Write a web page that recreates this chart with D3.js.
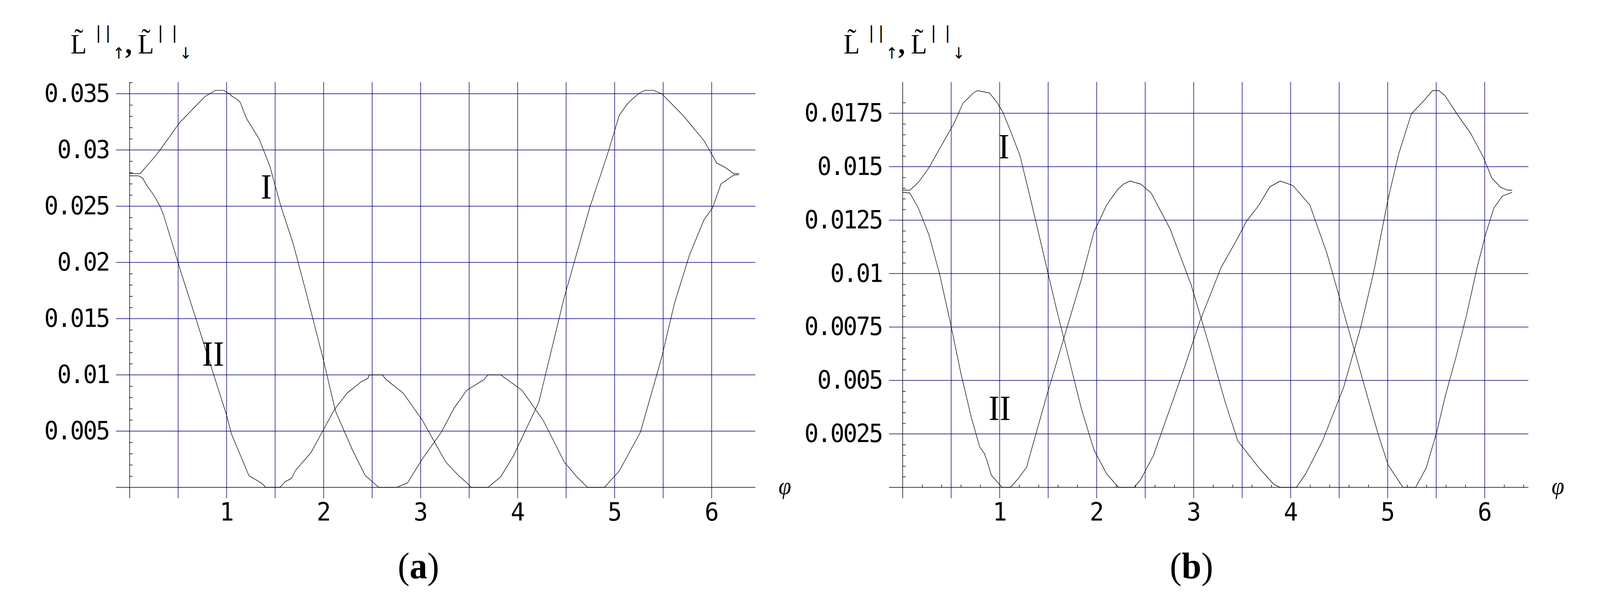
<!DOCTYPE html>
<html>
<head>
<meta charset="utf-8">
<script src="https://cdn.jsdelivr.net/npm/d3@7"></script>
<style>
  html, body { margin: 0; padding: 0; background: #fff; overflow: hidden; }
  #plot svg { display: block; width: 100vw; height: 100vh; }
  .grid { stroke: #000080; stroke-width: 1.5; }
  .axisline { stroke: #000; stroke-width: 1.5; }
  .curve { fill: none; stroke: #000; stroke-width: 1.4; }
  .tick-lbl { font-family: "DejaVu Sans Mono", monospace; font-size: 64px; letter-spacing: -3.5px; fill: #000; }
</style>
</head>
<body>
<div id="plot"></div>
<script>
// panel (a): phi values and the two curves
const aPhiI = [0, 0.03, 0.108, 0.25, 0.314, 0.517, 0.777, 0.885, 0.969, 1.03, 1.056, 1.10, 1.139, 1.205, 1.336, 1.445, 1.555, 1.686, 1.817, 1.991, 2.122, 2.297, 2.428, 2.515, 2.568, 2.755, 2.865, 3.017, 3.214, 3.345, 3.476, 3.651, 3.694, 3.825, 4.044, 4.262, 4.48, 4.611, 4.72, 4.895, 5.048, 5.266, 5.485, 5.616, 5.769, 5.921, 6.009, 6.096, 6.227, 6.283];
const aValI = [0.0279, 0.0279, 0.0279, 0.0293, 0.0300, 0.03245, 0.03475, 0.0353, 0.0353, 0.0350, 0.03477, 0.03455, 0.03425, 0.0328, 0.03096, 0.02857, 0.02511, 0.02166, 0.01741, 0.01156, 0.00678, 0.00332, 0.00106, 0.0004, 0, 0, 0.0004, 0.00252, 0.00492, 0.00704, 0.00864, 0.00957, 0.01, 0.01, 0.00864, 0.00598, 0.00226, 0.00093, 0, 0, 0.00146, 0.00492, 0.01156, 0.01634, 0.0206, 0.02379, 0.02485, 0.02697, 0.02777, 0.0278];
const aPhiII = [0, 0.091, 0.136, 0.168, 0.25, 0.314, 0.349, 0.533, 0.693, 0.854, 1.001, 1.049, 1.229, 1.335, 1.383, 1.40, 1.549, 1.603, 1.669, 1.709, 1.87, 1.99, 2.11, 2.244, 2.39, 2.457, 2.471, 2.604, 2.646, 2.821, 3.017, 3.258, 3.389, 3.476, 3.52, 3.694, 3.825, 3.956, 4.218, 4.48, 4.611, 4.742, 4.917, 5.048, 5.135, 5.245, 5.31, 5.40, 5.485, 5.703, 5.921, 6.052, 6.14, 6.227, 6.283];
const aValII = [0.0277, 0.0277, 0.02748, 0.02696, 0.02597, 0.02499, 0.02424, 0.01903, 0.01473, 0.01035, 0.00638, 0.00476, 0.00105, 0.0005, 0.0002, 0, 0, 0.0005, 0.0008, 0.0015, 0.0031, 0.005, 0.0069, 0.0084, 0.0094, 0.0097, 0.01, 0.01, 0.00957, 0.00837, 0.00598, 0.00226, 0.00106, 0.0004, 0, 0, 0.00093, 0.00279, 0.00757, 0.01688, 0.02086, 0.02485, 0.02937, 0.03309, 0.03415, 0.035, 0.0353, 0.0353, 0.035, 0.03309, 0.03083, 0.02884, 0.02844, 0.0279, 0.0279];

// panel (b)
const bPhiI = [0, 0.074, 0.161, 0.271, 0.401, 0.532, 0.62, 0.729, 0.772, 0.894, 0.969, 1.034, 1.121, 1.209, 1.318, 1.449, 1.579, 1.71, 1.841, 1.972, 2.103, 2.225, 2.387, 2.452, 2.583, 2.714, 2.888, 3.063, 3.281, 3.455, 3.543, 3.674, 3.783, 3.892, 4.023, 4.197, 4.372, 4.503, 4.634, 4.764, 4.895, 5.004, 5.157, 5.288, 5.397, 5.506, 5.593, 5.703, 5.812, 5.921, 6.008, 6.095, 6.183, 6.283];
const bValI = [0.0139, 0.0139, 0.01426, 0.01496, 0.016, 0.01705, 0.01796, 0.01845, 0.01856, 0.01845, 0.01803, 0.01754, 0.01656, 0.01552, 0.01349, 0.01097, 0.00846, 0.00608, 0.0037, 0.00175, 0.00063, 0, 0, 0.00035, 0.00147, 0.00315, 0.00538, 0.00776, 0.01027, 0.01167, 0.01244, 0.01321, 0.01405, 0.01433, 0.01412, 0.01321, 0.01097, 0.00888, 0.00678, 0.00468, 0.00259, 0.00105, 0, 0, 0.00091, 0.00259, 0.00426, 0.00608, 0.00804, 0.01027, 0.01181, 0.01307, 0.01363, 0.0138];
const bPhiII = [0, 0.074, 0.161, 0.271, 0.38, 0.489, 0.598, 0.707, 0.794, 0.84, 0.87, 0.914, 1.025, 1.11, 1.19, 1.278, 1.33, 1.492, 1.667, 1.841, 1.972, 2.103, 2.212, 2.277, 2.343, 2.452, 2.561, 2.757, 2.976, 3.15, 3.325, 3.455, 3.674, 3.826, 3.892, 4.058, 4.154, 4.328, 4.546, 4.721, 4.852, 5.004, 5.113, 5.244, 5.375, 5.463, 5.528, 5.593, 5.724, 5.855, 5.986, 6.073, 6.161, 6.227, 6.283];
const bValII = [0.0138, 0.01377, 0.01307, 0.01181, 0.00999, 0.00776, 0.00538, 0.00328, 0.00189, 0.0016, 0.00124, 0.00057, 0, 0, 0.0004, 0.00094, 0.0018, 0.0044, 0.00706, 0.00971, 0.01195, 0.01321, 0.01391, 0.01419, 0.01433, 0.01419, 0.01377, 0.01209, 0.00944, 0.00678, 0.00398, 0.00217, 0.00091, 0.00014, 0, 0, 0.00063, 0.00217, 0.00468, 0.00748, 0.00999, 0.01349, 0.01559, 0.01747, 0.0181, 0.01856, 0.01856, 0.01831, 0.0174, 0.01656, 0.01545, 0.01447, 0.01405, 0.01391, 0.0139];

// ticks
const xTicks = [1, 2, 3, 4, 5, 6];
const xGrid = [0.5, 1, 1.5, 2, 2.5, 3, 3.5, 4, 4.5, 5, 5.5, 6];
const aYTicks = [0.005, 0.01, 0.015, 0.02, 0.025, 0.03, 0.035];
const aYLabels = ["0.005", "0.01", "0.015", "0.02", "0.025", "0.03", "0.035"];
const bYTicks = [0.0025, 0.005, 0.0075, 0.01, 0.0125, 0.015, 0.0175];
const bYLabels = ["0.0025", "0.005", "0.0075", "0.01", "0.0125", "0.015", "0.0175"];

const W = 4332, H = 1516;
// stretch the drawing over the whole window, whatever its size
const svg = d3.select("#plot").append("svg")
  .attr("viewBox", `0 0 ${W} ${H}`)
  .attr("preserveAspectRatio", "none");

// one panel of the figure
function drawPanel(o) {
  const x = d3.scaleLinear().domain([0, 6.45]).range([o.left, o.left + 1694]);
  const y = d3.scaleLinear().domain([0, o.yMax]).range([1248, o.yTop]);
  const x0 = x(0), y0 = y(0);
  const g = svg.append("g");
  const topY = 210, botY = 1276;

  // grid
  g.selectAll(".hg").data(o.yTicks).join("line").attr("class", "grid")
    .attr("x1", x0 - 37).attr("x2", x.range()[1])
    .attr("y1", d => y(d)).attr("y2", d => y(d));
  g.selectAll(".vg").data(xGrid).join("line").attr("class", "grid")
    .attr("x1", d => x(d)).attr("x2", d => x(d))
    .attr("y1", topY).attr("y2", botY);

  // axes lines
  g.append("line").attr("class", "axisline")
    .attr("x1", x0 - 37).attr("x2", x.range()[1]).attr("y1", y0).attr("y2", y0);
  g.append("line").attr("class", "axisline")
    .attr("x1", x0).attr("x2", x0).attr("y1", topY).attr("y2", botY);

  // minor ticks on y (inside)
  const minorY = d3.range(1, Math.floor(o.yMax / o.yMinor + 1e-6) + 2)
    .map(k => +(k * o.yMinor).toFixed(6))
    .filter(v => y(v) >= topY - 0.5)
    .filter(v => Math.abs(v / o.yMajor - Math.round(v / o.yMajor)) > 1e-6);
  g.append("g").attr("transform", `translate(${x0},0)`)
    .call(d3.axisRight(y).tickValues(minorY).tickSize(8).tickFormat(""))
    .call(a => a.select(".domain").remove())
    .selectAll("line").attr("stroke", "#000").attr("stroke-width", 1.5);

  if (o.xMinor) {
    const minorX = d3.range(1, 33).map(k => +(k * 0.2).toFixed(2))
      .filter(v => Math.abs(v - Math.round(v)) > 1e-6);
    g.append("g").attr("transform", `translate(0,${y0})`)
      .call(d3.axisTop(x).tickValues(minorX).tickSize(7).tickFormat(""))
      .call(a => a.select(".domain").remove())
      .selectAll("line").attr("stroke", "#000").attr("stroke-width", 1.5);
  }

  // tick labels
  g.append("g").attr("transform", `translate(${x0},0)`)
    .call(d3.axisLeft(y).tickValues(o.yTicks).tickSize(0).tickPadding(56)
      .tickFormat((d, i) => o.yLabels[i]))
    .call(a => a.select(".domain").remove())
    .selectAll("text").attr("class", "tick-lbl").attr("font-family", null).attr("font-size", null);
  g.append("g").attr("transform", `translate(0,${y0})`)
    .call(d3.axisBottom(x).tickValues(xTicks).tickSize(0).tickPadding(40).tickFormat(d3.format("d")))
    .call(a => a.select(".domain").remove())
    .selectAll("text").attr("class", "tick-lbl").attr("font-family", null).attr("font-size", null)
    .style("letter-spacing", "0px");

  // curves
  const line = d3.line().x(d => x(d[0])).y(d => y(d[1]));
  o.curves.forEach(c => {
    g.append("path").attr("class", "curve").attr("d", line(d3.zip(c[0], c[1])));
  });

  // curve labels
  o.marks.forEach(m => {
    g.append("text").attr("x", x(m.phi)).attr("y", y(m.v))
      .attr("text-anchor", "middle")
      .attr("font-family", "Liberation Serif, serif").attr("font-size", 90)
      .text(m.t);
  });

  // phi label
  g.append("text").attr("x", x.range()[1] + 80).attr("y", 1265)
    .attr("text-anchor", "middle").attr("font-family", "Liberation Serif, serif")
    .attr("font-style", "italic").attr("font-size", 62).text("\u03C6");

  // y label: L~||_up , L~||_down, as one text with placed pieces
  const t = svg.append("text").attr("font-family", "Liberation Serif, serif").attr("fill", "#000");
  const piece = (s, dx, yy, size, extra) => {
    const sp = t.append("tspan").attr("x", x0 + dx).attr("y", yy).attr("font-size", size).text(s);
    if (extra) extra(sp);
  };
  piece("L\u0303", -160, 137, 72);
  piece("|", -92, 99, 44, s => s.attr("font-family", "DejaVu Sans, sans-serif"));
  piece("|", -66, 99, 44, s => s.attr("font-family", "DejaVu Sans, sans-serif"));
  piece("\u2191", -46, 150, 40, s => s.attr("font-family", "DejaVu Sans, sans-serif"));
  piece(",", -12, 137, 74, s => s.attr("font-weight", "bold"));
  piece("L\u0303", 22, 137, 72);
  piece("|", 76, 99, 44, s => s.attr("font-family", "DejaVu Sans, sans-serif"));
  piece("|", 114, 99, 44, s => s.attr("font-family", "DejaVu Sans, sans-serif"));
  piece("\u2193", 135, 150, 40, s => s.attr("font-family", "DejaVu Sans, sans-serif"));

  // panel letter
  const p = svg.append("text").attr("x", x0 + 782).attr("y", 1481).attr("text-anchor", "middle")
    .attr("font-family", "Liberation Serif, serif").attr("font-size", 96);
  p.append("tspan").text("(");
  p.append("tspan").attr("font-weight", "bold").text(o.letter);
  p.append("tspan").text(")");
}

drawPanel({
  left: 351, yMax: 0.035, yTop: 240, yTicks: aYTicks, yLabels: aYLabels,
  yMajor: 0.005, yMinor: 0.001, xMinor: false, letter: "a",
  curves: [[aPhiI, aValI], [aPhiII, aValII]],
  marks: [{ t: "I", phi: 1.409, v: 0.02566 }, { t: "II", phi: 0.861, v: 0.0108 }]
});
drawPanel({
  left: 2444, yMax: 0.0175, yTop: 290, yTicks: bYTicks, yLabels: bYLabels,
  yMajor: 0.0025, yMinor: 0.0005, xMinor: true, letter: "b",
  curves: [[bPhiI, bValI], [bPhiII, bValII]],
  marks: [{ t: "I", phi: 1.043, v: 0.01538 }, { t: "II", phi: 1.0, v: 0.00314 }]
});
</script>
</body>
</html>
